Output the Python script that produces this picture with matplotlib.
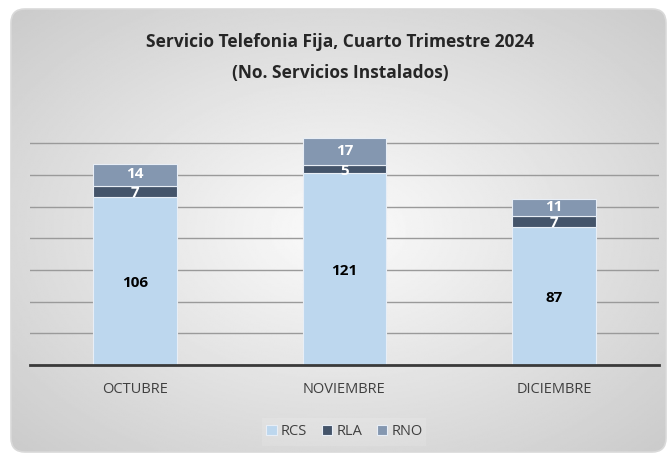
import numpy as np
import matplotlib.pyplot as plt
from matplotlib.patches import FancyBboxPatch

# data
meses = ["OCTUBRE", "NOVIEMBRE", "DICIEMBRE"]
rcs = [106, 121, 87]
rla = [7, 5, 7]
rno = [14, 17, 11]

c_rcs = "#bdd7ee"
c_rla = "#44546a"
c_rno = "#8497b0"

plt.rcParams['font.family'] = ['Open Sans', 'DejaVu Sans']

fig = plt.figure(figsize=(6.69, 4.55), dpi=100)

# background with radial gradient and rounded frame
bg = fig.add_axes([0, 0, 1, 1])
bg.set_xlim(0, 669)
bg.set_ylim(455, 0)
bg.axis("off")
xx, yy = np.meshgrid(np.linspace(-1, 1, 400), np.linspace(-1, 1, 300))
r = np.clip(np.sqrt(xx**2 + yy**2) / 1.41, 0, 1)
grad = 0.985 - 0.19 * r
img = bg.imshow(grad, cmap="gray", vmin=0, vmax=1, extent=(11, 666, 452, 9),
                aspect="auto", zorder=0)
box = FancyBboxPatch((11, 9), 655, 443, boxstyle="round,pad=0,rounding_size=14",
                     facecolor="none", edgecolor="#d9d9d9", linewidth=1.2,
                     transform=bg.transData)
bg.add_patch(box)
img.set_clip_path(box)

# faint legend box
bg.add_patch(FancyBboxPatch((262, 418), 164, 28, boxstyle="square,pad=0",
                            facecolor="#ffffff", alpha=0.12, edgecolor="none"))

ax = fig.add_axes([0.0448, 0.1978, 0.9402, 0.5572])
ax.patch.set_alpha(0)

x = np.arange(len(meses))
w = 0.4
bottom2 = np.array(rcs) + np.array(rla)
ax.bar(x, rcs, w, color=c_rcs, edgecolor="#e8eef6", linewidth=0.8, label="RCS", zorder=3)
ax.bar(x, rla, w, bottom=rcs, color=c_rla, edgecolor="#e8eef6", linewidth=0.8, label="RLA", zorder=3)
ax.bar(x, rno, w, bottom=bottom2, color=c_rno, edgecolor="#e8eef6", linewidth=0.8, label="RNO", zorder=3)

for i in range(len(meses)):
    ax.text(x[i], rcs[i] / 2 - 1, str(rcs[i]), ha="center", va="center",
            fontsize=11, fontweight="bold", color="black", zorder=4)
    ax.text(x[i], rcs[i] + rla[i] / 2 - 0.8, str(rla[i]), ha="center", va="center",
            fontsize=11, fontweight="bold", color="white", zorder=4)
    ax.text(x[i], bottom2[i] + rno[i] / 2 + 0.5, str(rno[i]), ha="center", va="center",
            fontsize=11, fontweight="bold", color="white", zorder=4)

ax.set_xlim(-0.5, 2.5)
ax.set_ylim(0, 160)
ax.set_yticks(range(0, 141, 20))
ax.yaxis.grid(True, color="#9a9a9a", linewidth=1.0, zorder=1)
ax.tick_params(axis="y", left=False, labelleft=False)
ax.tick_params(axis="x", bottom=False, labelsize=10.5, colors="#404040", pad=9)
ax.set_xticks(x)
ax.set_xticklabels(meses)
for s in ["top", "right", "left"]:
    ax.spines[s].set_visible(False)
ax.spines["bottom"].set_color("#3a3a3a")
ax.spines["bottom"].set_linewidth(2)
ax.spines["bottom"].set_zorder(5)

fig.text(0.508, 0.907, "Servicio Telefonia Fija, Cuarto Trimestre 2024",
         ha="center", va="center", fontsize=12.5, fontweight="bold", color="#262626")
fig.text(0.508, 0.840, "(No. Servicios Instalados)",
         ha="center", va="center", fontsize=12.5, fontweight="bold", color="#262626")

leg = ax.legend(loc="center", bbox_to_anchor=(0.5, -0.262), ncol=3, frameon=False,
                fontsize=10.5, handlelength=0.7, handleheight=0.7, handletextpad=0.3,
                columnspacing=1.0, labelcolor="#404040")

plt.savefig("out.png", dpi=100)
plt.close()
